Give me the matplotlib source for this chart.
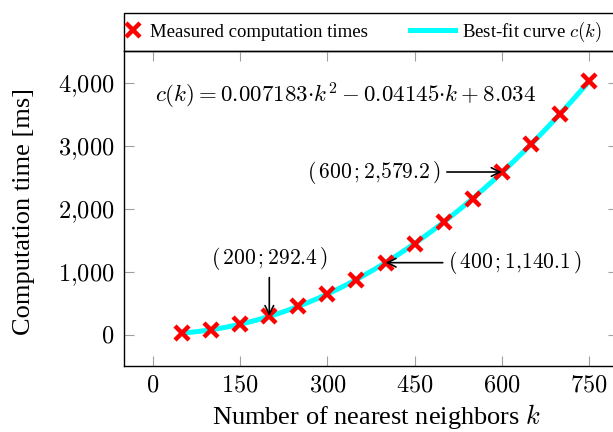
import numpy as np
import matplotlib
matplotlib.use("Agg")
import matplotlib.pyplot as plt
from matplotlib.ticker import FuncFormatter
from matplotlib.patches import Rectangle

plt.rcParams['font.family'] = ['Liberation Serif', 'DejaVu Serif']
plt.rcParams['mathtext.fontset'] = 'cm'

# measured computation times (ms) for k nearest neighbors
k_values = [50, 100, 150, 200, 250, 300, 350, 400, 450, 500, 550, 600, 650, 700, 750]
times_ms = [24, 76, 163, 292.4, 447, 642, 873, 1140.1, 1444, 1783, 2158, 2579.2, 3016, 3499, 4017]

# coefficients of the best-fit curve printed in the chart
fit_coeffs = [0.007183, -0.04145, 8.034]

x_ticks = [0, 150, 300, 450, 600, 750]
y_ticks = [0, 1000, 2000, 3000, 4000]


def cm_number(v, pos=None):
    s = "{:,.0f}".format(v).replace(",", "{,}")
    return "$" + s + "$"


fig = plt.figure(figsize=(6.13, 4.32), dpi=100)
ax = fig.add_axes([124 / 613, 1 - 366 / 432, 494 / 613, 315 / 432])

k_fine = np.linspace(min(k_values), max(k_values), 200)
fit_line, = ax.plot(k_fine, np.polyval(fit_coeffs, k_fine), color="cyan", lw=3.6,
                    zorder=2)
meas, = ax.plot(k_values, times_ms, ls="none", marker="x", color="red",
                markersize=10, mew=3.2, zorder=3)

ax.set_xlim(-50, 800)
ax.set_ylim(-500, 4500)
ax.set_xticks(x_ticks)
ax.set_yticks(y_ticks)
ax.xaxis.set_major_formatter(FuncFormatter(cm_number))
ax.yaxis.set_major_formatter(FuncFormatter(cm_number))
ax.tick_params(direction="in", length=7, width=0.8, color="#a0a0a0",
               top=True, right=True, labelsize=17.5, pad=7)
for sp in ax.spines.values():
    sp.set_linewidth(1.0)

ax.set_xlabel(r"Number of nearest neighbors $k$", fontsize=19)
ax.xaxis.set_label_coords(0.51, -0.114)
ax.set_ylabel("Computation time [ms]", fontsize=19)
ax.yaxis.set_label_coords(-0.18, 0.489)

ax.text(3, 3780, r"$c(k) = 0.007183{\cdot}k^2 - 0.04145{\cdot}k + 8.034$",
        fontsize=16.5, ha="left", va="center")

arrow = dict(arrowstyle="->", lw=1.2, color="black", shrinkA=2, shrinkB=0)
ax.annotate(r"$(\,600\,;2{,}579.2\,)$", xy=(k_values[11], times_ms[11]),
            xytext=(496, times_ms[11]), ha="right", va="center",
            fontsize=15.5, arrowprops=arrow)
ax.annotate(r"$(\,400\,;1{,}140.1\,)$", xy=(k_values[7], times_ms[7]),
            xytext=(508, times_ms[7]), ha="left", va="center",
            fontsize=15.5, arrowprops=arrow)
ax.annotate(r"$(\,200\,;292.4\,)$", xy=(k_values[3], times_ms[3]),
            xytext=(200, 1206), ha="center", va="center",
            fontsize=15.5, arrowprops=arrow)

# legend box on top of the axes
box_h = 38 / 315
ax.add_patch(Rectangle((0, 1), 1, box_h, transform=ax.transAxes, fill=False,
                       edgecolor="black", lw=1.0, clip_on=False))
leg1 = ax.legend([meas], ["Measured computation times"], loc="center left",
                 bbox_to_anchor=(0, 1 + box_h / 2), frameon=False,
                 fontsize=13.5, handlelength=0.8, handletextpad=0.48,
                 borderpad=0.1, borderaxespad=0)
ax.add_artist(leg1)
ax.legend([fit_line], [r"Best-fit curve $c(k)$"], loc="center left",
          bbox_to_anchor=(0.575, 1 + box_h / 2), frameon=False,
          fontsize=13.5, handlelength=2.4, handletextpad=0.37,
          borderpad=0.1, borderaxespad=0)

fig.savefig("out.png", dpi=100)
